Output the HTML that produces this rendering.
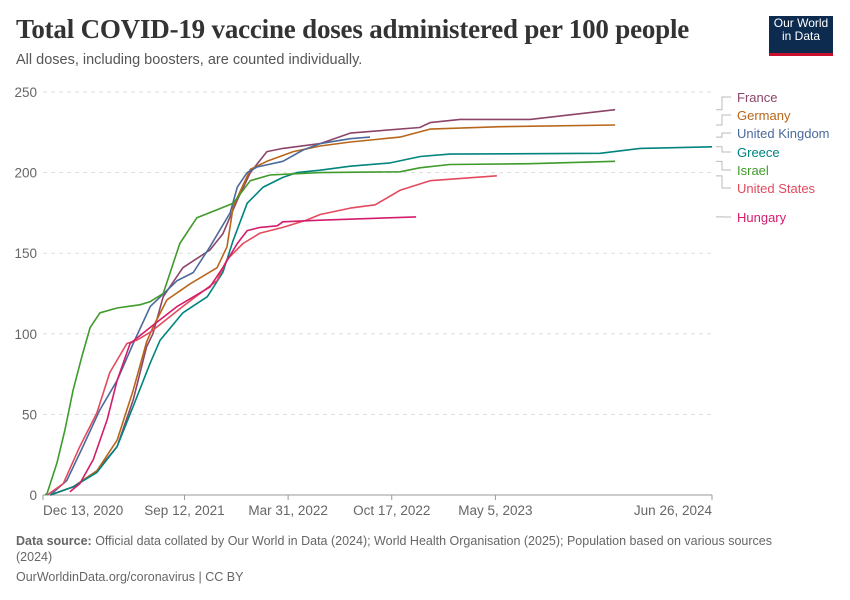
<!DOCTYPE html>
<html><head><meta charset="utf-8"><style>
body{margin:0;background:#fff;font-family:"Liberation Sans",sans-serif;}
#wrap{position:relative;width:850px;height:600px;overflow:hidden;}
.title{position:absolute;left:16px;top:14px;font-family:"Liberation Serif",serif;font-size:27px;font-weight:bold;color:#333;letter-spacing:-0.2px}
.sub{position:absolute;left:16px;top:52px;font-size:14.5px;color:#555}
.logo{position:absolute;left:769px;top:16px;width:64px;height:36px;background:#0d2a4f;border-bottom:3px solid #c8102e;color:#fff;font-size:12px;line-height:13px;text-align:center;padding-top:1px;box-sizing:content-box}
.foot{position:absolute;left:16px;font-size:12.5px;color:#666}
</style></head><body>
<div id="wrap">
<div class="title">Total COVID-19 vaccine doses administered per 100 people</div>
<div class="sub">All doses, including boosters, are counted individually.</div>
<div class="logo">Our World<br>in Data</div>
<svg id="chart" width="850" height="600" style="position:absolute;left:0;top:0"></svg>
<div class="foot" style="top:533px;width:790px;line-height:16px"><b>Data source:</b> Official data collated by Our World in Data (2024); World Health Organisation (2025); Population based on various sources (2024)</div>
<div class="foot" style="top:570px">OurWorldinData.org/coronavirus | CC BY</div>
</div>
<script>
// days since 2020-12-13
const yTicks=[0,50,100,150,200,250];
const xTickDays=[0,273,473,673,873,1291];
const xTickLabels=["Dec 13, 2020","Sep 12, 2021","Mar 31, 2022","Oct 17, 2022","May 5, 2023","Jun 26, 2024"];
const seriesNames=["France","Germany","United Kingdom","Greece","Israel","United States","Hungary"];
const seriesColors=["#8c4569","#b8661a","#4c6a9c","#00847e","#3f9b2b","#e34a5e","#d41c6c"];
const franceDays=[14,58,104,143,174,200,212,232,270,322,347,375,400,432,463,535,593,650,727,747,805,940,1104];
const franceVals=[0,5,15,30,59,92,100,123,141,152,162,183,200,213,215,218,224.5,226,228,231,233,233,239];
const germanyDays=[14,58,104,143,174,200,212,239,284,336,355,367,400,432,483,535,593,689,747,882,1104];
const germanyVals=[0,5,15,34,65,95,104,121,131,141,154,179,202,207,213,216.5,219,222,227,228.5,229.5];
const ukDays=[14,46,77,110,143,174,207,259,290,322,361,375,394,413,463,502,535,593,631];
const ukVals=[0,9,30,53,71,94,117,133,138,154,175,191,200,203.5,207,214,218,221,222];
const greeceDays=[14,58,104,143,174,207,226,270,317,347,367,394,425,463,490,535,593,670,728,785,1075,1152,1291];
const greeceVals=[0,5,14,30,55,82,96,113,123,138,158,181,191,197,200,201.5,204,206,210,211.5,212,215,216];
const israelDays=[4,8,27,42,58,75,91,110,143,187,207,232,264,297,336,367,400,438,535,689,727,785,940,1104];
const israelVals=[0,1,20,40,65,86,104,113,116,118,120,125,156,172,177,181,195,198.5,200,200.5,203,205,205.5,207];
const usDays=[8,39,71,104,129,162,181,207,270,336,355,386,419,463,509,535,593,641,689,747,876];
const usVals=[0,7,30,51,76,94,96,101,117,133,146,156,162.5,166,170.6,174,178,180,189,195,198];
const hungaryDays=[52,71,97,124,143,168,207,259,322,347,375,394,419,452,463,535,720];
const hungaryVals=[2,7,22,47,71,94,104,117,129,141,156,164,166,167,169.5,170.5,172.5];
const allDays=[franceDays,germanyDays,ukDays,greeceDays,israelDays,usDays,hungaryDays];
const allVals=[franceVals,germanyVals,ukVals,greeceVals,israelVals,usVals,hungaryVals];
const labelYs=[97,115,133,152,170,188,217];

const svg=document.getElementById('chart');
const NS='http://www.w3.org/2000/svg';
const X0=43,X1=712,Y0=495,Y1=92;
const xs=d=>X0+d*(X1-X0)/1291;
const ys=v=>Y0-v*(Y0-Y1)/250;
function mk(t,a){const e=document.createElementNS(NS,t);for(const k in a)e.setAttribute(k,a[k]);svg.appendChild(e);return e;}
yTicks.forEach(v=>{
  if(v>0){const g=mk('line',{x1:X0,x2:X1,y1:ys(v),y2:ys(v),stroke:'#ddd','stroke-dasharray':'4,4'});
  
  }
  const t=mk('text',{x:37,y:ys(v)+5,'text-anchor':'end','font-size':'13.5','fill':'#666','font-family':'Liberation Sans, sans-serif'});
  t.textContent=v;
  
  
});
const ax=mk('line',{x1:X0,x2:X1,y1:Y0,y2:Y0,stroke:'#999'});


xTickDays.forEach((d,i)=>{
  const tk=mk('line',{x1:xs(d),x2:xs(d),y1:Y0,y2:Y0+5,stroke:'#999'});
  
  
  const anchor=i==0?'start':(i==xTickDays.length-1?'end':'middle');
  const t=mk('text',{x:xs(d),y:515,'text-anchor':anchor,'font-size':'13.5','fill':'#666','font-family':'Liberation Sans, sans-serif'});
  t.textContent=xTickLabels[i];
  
  
});
allDays.forEach((ds,i)=>{
  let p='';ds.forEach((d,j)=>{p+=(j?'L':'M')+xs(d).toFixed(1)+','+ys(allVals[i][j]).toFixed(1);});
  const l=mk('path',{d:p,fill:'none',stroke:seriesColors[i],'stroke-width':1.6,'stroke-linejoin':'round'});
  
  
  const ey=ys(allVals[i][allVals[i].length-1]);
  const c=mk('path',{d:`M716,${ey}H722V${labelYs[i]}H731`,fill:'none',stroke:'#bbb','stroke-width':1});
  
  
  const t=mk('text',{x:737,y:labelYs[i]+5,'font-size':'13','fill':seriesColors[i],'font-family':'Liberation Sans, sans-serif'});
  t.textContent=seriesNames[i];
  
  
});
</script>
</body></html>
